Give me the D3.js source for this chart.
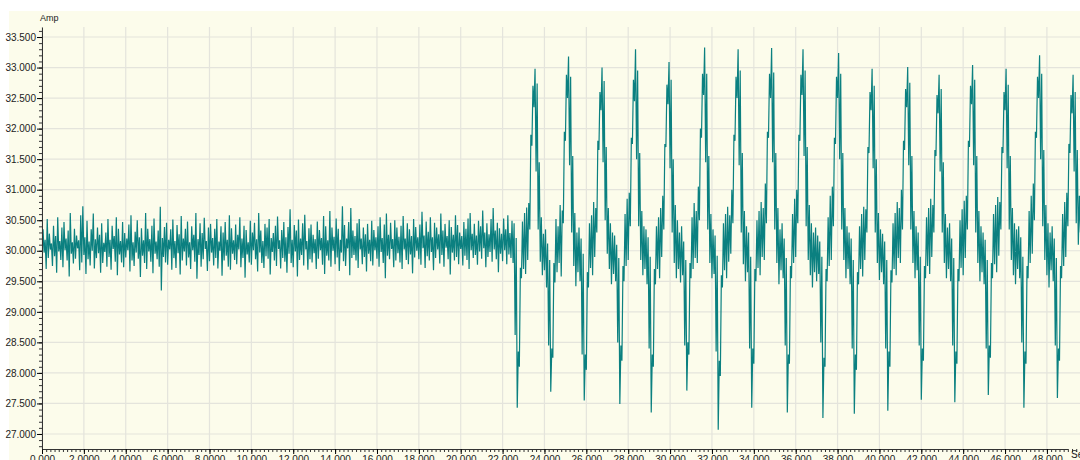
<!DOCTYPE html>
<html>
<head>
<meta charset="utf-8">
<script src="https://cdn.jsdelivr.net/npm/d3@7"></script>
<style>
body { margin: 0; background: #ffffff; }
svg { display: block; font-family: "Liberation Sans", Arial, sans-serif; }
</style>
</head>
<body>
<div id="chart"></div>
<script>
// sample spacing of the envelope (s), each sample = low / high reading
const step = 0.1

// calm part, 0 .. 22.5 s
const quietStart = 0
const quietLo = [
    29.82, 29.97, 29.70, 29.88, 30.02, 29.75, 29.91, 29.64, 29.99, 29.85,
    29.73, 30.01, 29.84, 29.58, 29.95, 29.79, 29.87, 30.04, 29.68, 29.81,
    29.93, 29.62, 29.86, 29.76, 30.00, 29.71, 29.88, 29.96, 29.64, 29.80,
    29.98, 29.74, 29.90, 29.69, 30.03, 29.82, 29.60, 29.94, 29.81, 29.73,
    29.89, 30.01, 29.66, 29.84, 29.75, 29.97, 29.87, 29.57, 29.92, 29.80,
    29.70, 29.99, 29.82, 29.63, 29.95, 29.86, 29.74, 29.35, 29.90, 29.81,
    29.77, 30.02, 29.69, 29.88, 29.72, 29.96, 29.61, 29.84, 29.99, 29.76,
    29.89, 29.70, 30.01, 29.82, 29.54, 29.93, 29.74, 29.86, 30.03, 29.67,
    29.83, 29.97, 29.76, 29.88, 29.71, 30.00, 29.59, 29.84, 29.92, 29.74,
    29.69, 29.95, 29.85, 29.78, 30.02, 29.73, 29.88, 29.56, 29.94, 29.81,
    29.77, 30.01, 29.86, 29.66, 29.97, 29.80, 29.72, 29.91, 29.87, 29.61,
    29.98, 29.84, 29.75, 30.03, 29.71, 29.88, 29.82, 29.64, 29.95, 29.80,
    29.73, 29.99, 29.58, 29.85, 29.93, 29.76, 30.02, 29.69, 29.86, 29.81,
    29.96, 29.70, 29.87, 30.01, 29.77, 29.62, 29.92, 29.84, 29.74, 30.00,
    29.78, 29.89, 29.67, 29.97, 29.83, 29.75, 30.04, 29.60, 29.88, 29.93,
    29.84, 29.72, 30.02, 29.78, 29.90, 29.66, 29.95, 29.83, 29.76, 30.01,
    29.87, 29.74, 29.98, 29.80, 29.55, 29.92, 29.86, 30.03, 29.73, 29.84,
    29.96, 29.81, 29.70, 30.02, 29.85, 29.78, 29.94, 29.63, 29.89, 30.00,
    29.86, 29.77, 30.04, 29.72, 29.91, 29.84, 29.98, 29.68, 29.88, 30.02,
    29.79, 29.93, 29.74, 30.05, 29.86, 29.61, 29.97, 29.84, 29.90, 29.78,
    30.03, 29.76, 29.92, 29.85, 29.70, 30.01, 29.88, 29.93, 29.77, 29.99,
    29.87, 30.04, 29.73, 29.90, 29.98, 29.82, 30.02, 29.86, 29.65, 29.95,
    29.83, 30.01, 29.78, 29.94, 29.88, 29.80
]
const quietHi = [
    30.35, 30.18, 30.52, 30.28, 30.12, 30.41, 30.24, 30.55, 30.16, 30.38,
    30.47, 30.20, 30.33, 30.62, 30.14, 30.36, 30.25, 30.17, 30.58, 30.73,
    30.22, 30.49, 30.15, 30.35, 30.61, 30.19, 30.38, 30.26, 30.45, 30.13,
    30.30, 30.52, 30.18, 30.41, 30.24, 30.55, 30.36, 30.16, 30.47, 30.29,
    30.20, 30.43, 30.58, 30.14, 30.31, 30.50, 30.22, 30.37, 30.17, 30.62,
    30.36, 30.19, 30.41, 30.53, 30.15, 30.33, 30.72, 30.21, 30.39, 30.46,
    30.18, 30.35, 30.51, 30.16, 30.42, 30.27, 30.57, 30.20, 30.36, 30.48,
    30.14, 30.40, 30.26, 30.62, 30.19, 30.45, 30.29, 30.54, 30.16, 30.38,
    30.44, 30.21, 30.36, 30.52, 30.15, 30.40, 30.30, 30.47, 30.18, 30.58,
    30.37, 30.17, 30.43, 30.26, 30.55, 30.20, 30.41, 30.34, 30.14, 30.49,
    30.30, 30.46, 30.19, 30.62, 30.33, 30.16, 30.44, 30.38, 30.52, 30.21,
    30.29, 30.41, 30.56, 30.17, 30.34, 30.47, 30.22, 30.39, 30.68, 30.18,
    30.42, 30.33, 30.51, 30.20, 30.45, 30.59, 30.16, 30.37, 30.43, 30.26,
    30.19, 30.48, 30.34, 30.21, 30.57, 30.40, 30.17, 30.65, 30.38, 30.23,
    30.53, 30.36, 30.18, 30.73, 30.42, 30.20, 30.47, 30.70, 30.33, 30.24,
    30.45, 30.52, 30.20, 30.38, 30.27, 30.44, 30.18, 30.49, 30.34, 30.22,
    30.40, 30.55, 30.21, 30.43, 30.61, 30.26, 30.46, 30.19, 30.50, 30.38,
    30.23, 30.41, 30.57, 30.20, 30.45, 30.35, 30.24, 30.52, 30.39, 30.22,
    30.43, 30.64, 30.25, 30.48, 30.31, 30.55, 30.22, 30.46, 30.38, 30.27,
    30.61, 30.33, 30.44, 30.24, 30.50, 30.39, 30.26, 30.58, 30.42, 30.30,
    30.24, 30.47, 30.36, 30.53, 30.62, 30.28, 30.44, 30.25, 30.49, 30.40,
    30.66, 30.30, 30.45, 30.27, 30.52, 30.70, 30.33, 30.46, 30.37, 30.28,
    30.53, 30.35, 30.58, 30.29, 30.49, 30.45
]

// oscillating part, from 22.6 s, one row ~ half a cycle
const burstStart = 22.6
const burstRange = [
    [28.62, 30.21],
    [27.43, 28.35], [28.10, 29.72], [29.55, 30.48], [29.70, 30.62], [29.62, 30.71], [29.85, 30.78], [30.35, 31.90], [31.72, 32.70],
    [32.35, 32.98], [31.30, 32.74], [30.35, 31.45], [29.82, 30.55], [29.60, 30.28], [29.68, 30.35], [29.40, 30.12], [28.45, 29.85],
    [27.69, 28.40], [28.25, 29.80], [29.48, 30.52], [29.65, 30.40], [29.80, 30.75], [29.58, 30.66], [30.45, 31.95], [31.80, 32.88],
    [32.50, 33.18], [31.40, 32.85], [30.30, 31.55], [29.75, 30.62], [29.42, 30.30], [29.65, 30.38], [29.50, 30.20], [28.30, 29.95],
    [27.55, 28.30], [28.05, 29.65], [29.40, 30.45], [29.72, 30.58], [29.60, 30.80], [29.90, 30.70], [30.30, 31.80], [31.65, 32.60],
    [32.30, 33.00], [31.45, 32.78], [30.50, 31.70], [29.95, 30.70], [29.70, 30.45], [29.45, 30.30], [29.62, 30.25], [29.50, 30.10], [28.50, 29.88],
    [27.49, 28.45], [28.20, 29.75], [29.50, 30.60], [29.75, 30.85], [29.85, 30.95], [30.40, 31.85], [31.75, 32.80],
    [32.45, 33.30], [31.50, 32.95], [30.40, 31.60], [29.85, 30.65], [29.60, 30.40], [29.70, 30.35], [29.45, 30.22], [28.40, 29.90],
    [27.35, 28.30], [28.10, 29.70], [29.45, 30.40], [29.70, 30.55], [29.55, 30.70], [29.90, 30.90], [30.35, 31.75], [31.70, 32.72],
    [32.40, 33.09], [31.35, 32.80], [30.30, 31.50], [29.80, 30.75], [29.55, 30.50], [29.70, 30.30], [29.48, 30.40], [29.60, 30.15], [28.45, 29.85],
    [27.71, 28.50], [28.30, 29.80], [29.55, 30.55], [29.70, 30.78], [29.88, 30.65], [29.80, 31.05], [30.50, 32.00], [31.85, 32.90],
    [32.55, 33.33], [31.45, 32.90], [30.35, 31.55], [29.80, 30.60], [29.55, 30.35], [29.62, 30.25], [28.35, 29.92],
    [27.07, 28.20], [27.95, 29.60], [29.40, 30.45], [29.68, 30.60], [29.55, 30.72], [29.82, 30.58], [29.95, 31.00], [30.45, 31.90], [31.80, 32.85],
    [32.50, 33.30], [31.40, 32.95], [30.30, 31.60], [29.78, 30.65], [29.50, 30.40], [29.65, 30.30], [28.40, 29.90],
    [27.43, 28.40], [28.15, 29.70], [29.50, 30.50], [29.72, 30.65], [29.60, 30.80], [29.90, 30.70], [29.85, 31.10], [30.45, 31.95], [31.85, 32.90],
    [32.50, 33.32], [31.45, 32.92], [30.35, 31.60], [29.80, 30.70], [29.45, 30.35], [29.68, 30.45], [29.55, 30.20], [28.45, 29.88],
    [27.35, 28.30], [28.15, 29.75], [29.55, 30.60], [29.80, 30.85], [29.90, 31.00], [30.45, 31.90], [31.80, 32.88],
    [32.55, 33.30], [31.55, 32.95], [30.40, 31.70], [29.85, 30.75], [29.60, 30.45], [29.40, 30.30], [29.65, 30.38], [29.50, 30.25], [29.62, 30.15], [28.50, 29.90],
    [27.26, 28.25], [28.10, 29.70], [29.50, 30.55], [29.75, 30.90], [29.85, 31.05], [30.40, 31.85], [31.75, 32.85],
    [32.50, 33.24], [31.50, 32.90], [30.35, 31.60], [29.85, 30.70], [29.55, 30.40], [29.70, 30.30], [29.45, 30.20], [28.40, 29.85],
    [27.33, 28.30], [28.05, 29.65], [29.45, 30.40], [29.70, 30.60], [29.58, 30.72], [29.85, 30.68], [30.30, 31.70], [31.60, 32.60],
    [32.30, 32.98], [31.35, 32.70], [30.30, 31.50], [29.80, 30.62], [29.52, 30.35], [29.65, 30.28], [29.45, 30.15], [28.40, 29.85],
    [27.38, 28.35], [28.10, 29.68], [29.48, 30.45], [29.70, 30.62], [29.60, 30.80], [29.88, 30.70], [29.80, 31.00], [30.35, 31.80], [31.65, 32.65],
    [32.35, 33.01], [31.40, 32.75], [30.35, 31.55], [29.80, 30.65], [29.55, 30.40], [29.68, 30.30], [28.45, 29.90],
    [27.56, 28.40], [28.20, 29.75], [29.55, 30.55], [29.75, 30.70], [29.62, 30.85], [29.90, 30.75], [30.30, 31.65], [31.55, 32.55],
    [32.25, 32.88], [31.30, 32.65], [30.30, 31.45], [29.80, 30.60], [29.55, 30.38], [29.70, 30.45], [29.50, 30.20], [28.45, 29.88],
    [27.52, 28.35], [28.15, 29.70], [29.50, 30.50], [29.72, 30.68], [29.60, 30.82], [29.88, 30.90], [30.35, 31.80], [31.70, 32.70],
    [32.40, 33.04], [31.40, 32.80], [30.30, 31.55], [29.80, 30.65], [29.50, 30.40], [29.65, 30.30], [29.45, 30.18], [28.40, 29.85],
    [27.64, 28.45], [28.25, 29.80], [29.55, 30.60], [29.78, 30.75], [29.65, 30.88], [29.92, 30.80], [30.35, 31.70], [31.60, 32.60],
    [32.30, 32.98], [31.35, 32.72], [30.35, 31.55], [29.85, 30.70], [29.60, 30.45], [29.45, 30.35], [29.70, 30.40], [29.55, 30.22], [28.50, 29.90],
    [27.43, 28.35], [28.15, 29.75], [29.55, 30.65], [29.80, 30.90], [29.95, 31.10], [30.50, 31.95], [31.85, 32.85],
    [32.50, 33.20], [31.50, 32.90], [30.40, 31.65], [29.85, 30.75], [29.60, 30.45], [29.40, 30.30], [29.68, 30.40], [29.50, 30.20], [28.45, 29.88],
    [27.59, 28.40], [28.20, 29.75], [29.55, 30.60], [29.75, 30.80], [29.90, 30.95], [30.40, 31.75], [31.60, 32.55],
    [32.25, 32.88], [31.30, 32.60], [30.45, 31.65], [30.10, 30.90], [30.30, 30.85]
]

const xTicks = [0, 2, 4, 6, 8, 10, 12, 14, 16, 18, 20, 22, 24, 26, 28, 30, 32, 34, 36, 38, 40, 42, 44, 46, 48]
const yTicks = [27, 27.5, 28, 28.5, 29, 29.5, 30, 30.5, 31, 31.5, 32, 32.5, 33, 33.5]
const xTitle = "Sec"
const yTitle = "Amp"

function buildPoints() {
    let pts = []
    quietLo.forEach((lo, i) => {
        let t = quietStart + i * step
        pts.push([t, lo])
        pts.push([t + step / 2, quietHi[i]])
    })
    burstRange.forEach((d, i) => {
        let t = burstStart + i * step
        pts.push([t, d[0]])
        pts.push([t + step / 2, d[1]])
    })
    return pts
}

function drawChart() {
    const width = 1080
    const height = 460
    const margin = { top: 27, bottom: 11, left: 42, right: 0 }
    const plotBottom = height - margin.bottom

    const svg = d3.select("#chart")
        .append("svg")
        .attr("width", width)
        .attr("height", height)

    // cream panel
    svg.append("rect")
        .attr("x", 9)
        .attr("y", 11)
        .attr("width", width - 9)
        .attr("height", height - 11)
        .attr("fill", "#fcfceb")

    const x = d3.scaleLinear()
        .domain([0, 49.58])
        .range([margin.left, width - margin.right])

    const y = d3.scaleLinear()
        .domain([26.754, 33.664])
        .range([plotBottom, margin.top])

    // grid
    svg.append("g")
        .selectAll("line")
        .data(xTicks)
        .join("line")
        .attr("x1", d => x(d)).attr("x2", d => x(d))
        .attr("y1", margin.top).attr("y2", plotBottom)
        .attr("stroke", "#e4e4dc")
        .attr("stroke-width", 1.2)

    svg.append("g")
        .selectAll("line")
        .data(yTicks)
        .join("line")
        .attr("x1", margin.left).attr("x2", width)
        .attr("y1", d => y(d)).attr("y2", d => y(d))
        .attr("stroke", "#e4e4dc")
        .attr("stroke-width", 1.2)

    svg.append("clipPath")
        .attr("id", "plotClip")
        .append("rect")
        .attr("x", margin.left)
        .attr("y", margin.top)
        .attr("width", width - margin.left)
        .attr("height", plotBottom - margin.top)

    const line = d3.line()
        .x(d => x(d[0]))
        .y(d => y(d[1]))

    svg.append("path")
        .datum(buildPoints())
        .attr("clip-path", "url(#plotClip)")
        .attr("fill", "none")
        .attr("stroke", "#0b8080")
        .attr("stroke-width", 1.2)
        .attr("d", line)

    // minor ticks
    svg.append("g")
        .attr("transform", `translate(0, ${plotBottom})`)
        .call(d3.axisBottom(x).tickValues(d3.range(0, 49.5, 0.2)).tickSize(3).tickFormat(""))
        .call(g => g.select(".domain").remove())
        .selectAll("line").attr("stroke", "#333")

    svg.append("g")
        .attr("transform", `translate(${margin.left}, 0)`)
        .call(d3.axisLeft(y).tickValues(d3.range(26.8, 33.65, 0.1)).tickSize(3).tickFormat(""))
        .call(g => g.select(".domain").remove())
        .selectAll("line").attr("stroke", "#333")

    function xAxis(g) {
        g.attr("transform", `translate(0, ${plotBottom})`)
            .call(d3.axisBottom(x).tickValues(xTicks).tickSize(5).tickPadding(2)
                .tickSizeOuter(0)
                .tickFormat(d => d === 0 ? "0.000" : d3.format(".5r")(d)))
            .attr("font-size", "10px")
            .attr("font-family", "Liberation Sans, Arial, sans-serif")
        g.select(".domain").attr("stroke", "#333").attr("d", `M${margin.left},0.5H1068`)
        g.selectAll("text").attr("fill", "#222")
    }

    function yAxis(g) {
        g.attr("transform", `translate(${margin.left}, 0)`)
            .call(d3.axisLeft(y).tickValues(yTicks).tickSize(5).tickPadding(1)
                .tickSizeOuter(0)
                .tickFormat(d3.format(".3f")))
            .attr("font-size", "10px")
            .attr("font-family", "Liberation Sans, Arial, sans-serif")
        g.select(".domain").attr("stroke", "#333")
        g.selectAll("text").attr("fill", "#222")
    }

    svg.append("g").call(xAxis)
    svg.append("g").call(yAxis)

    svg.append("text")
        .attr("x", 40)
        .attr("y", 21)
        .attr("font-size", "9px")
        .attr("fill", "#222")
        .text(yTitle)

    svg.append("text")
        .attr("x", 1071)
        .attr("y", 458)
        .attr("font-size", "10px")
        .attr("fill", "#222")
        .text(xTitle)
}

drawChart()
</script>
</body>
</html>
